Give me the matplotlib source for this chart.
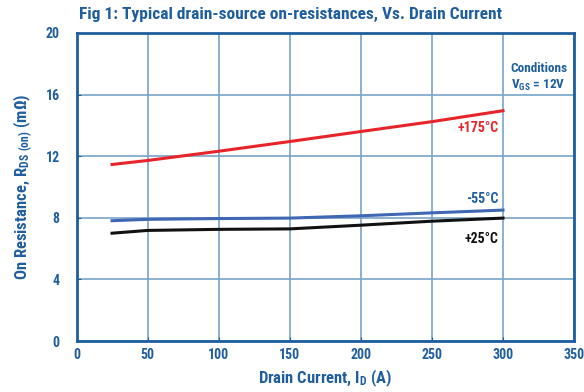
import matplotlib
matplotlib.use('Agg')
import matplotlib.pyplot as plt

# Rds(on) vs Id, Vgs = 12V
current = [25, 50, 100, 150, 200, 250, 300]
r_175 = [11.46, 11.72, 12.32, 12.95, 13.6, 14.24, 14.95]
r_m55 = [7.81, 7.9, 7.95, 7.98, 8.13, 8.32, 8.5]
r_25 = [7.0, 7.18, 7.25, 7.28, 7.52, 7.78, 7.98]

xticks = [0, 50, 100, 150, 200, 250, 300, 350]
yticks = [0, 4, 8, 12, 16, 20]

blue = '#1f5e9e'
grid_c = '#79a3c8'

plt.rcParams['font.family'] = ['Roboto Condensed', 'DejaVu Sans Condensed',
                               'Liberation Sans Narrow', 'DejaVu Sans']
plt.rcParams['mathtext.default'] = 'regular'

fig = plt.figure(figsize=(5.84, 3.92), dpi=100)
ax = fig.add_axes([0.131, 0.130, 0.852, 0.786])

ax.plot(current, r_175, color='#e8242b', lw=2.2)
ax.plot(current, r_m55, color='#3f67b4', lw=2.2)
ax.plot(current, r_25, color='#111111', lw=2.2)

ax.set_xlim(0, 350)
ax.set_ylim(0, 20)
ax.set_xticks(xticks)
ax.set_yticks(yticks)
ax.grid(True, color=grid_c, lw=1.2)
ax.set_axisbelow(True)
for s in ax.spines.values():
    s.set_color(blue)
    s.set_linewidth(2)
ax.tick_params(direction='in', length=3, color=blue, labelcolor=blue,
               labelsize=10)
ax.tick_params(axis='y', pad=12)
ax.tick_params(axis='x', pad=5)
for lab in ax.get_xticklabels() + ax.get_yticklabels():
    lab.set_fontweight('bold')

ax.set_xlabel(r'Drain Current, I$_{D}$ (A)', color=blue, fontsize=12,
              fontweight='bold', labelpad=4)
ax.set_ylabel(r'On Resistance, R$_{DS\ (on)}$ (mΩ)', color=blue, fontsize=12,
              fontweight='bold', labelpad=8)
fig.text(0.497, 0.962, 'Fig 1: Typical drain-source on-resistances, Vs. Drain Current',
         ha='center', va='center', color=blue, fontsize=12.5, fontweight='bold')

ax.text(325, 17.1, 'Conditions\n' + r'V$_{GS}$ = 12V', ha='center', va='center',
        color=blue, fontsize=9.5, fontweight='bold', linespacing=1.2)
ax.text(297, 13.8, '+175°C', ha='right', va='center', color='#e8242b',
        fontsize=10, fontweight='bold')
ax.text(297, 9.2, '-55°C', ha='right', va='center', color=blue,
        fontsize=10, fontweight='bold')
ax.text(297, 6.6, '+25°C', ha='right', va='center', color='#111111',
        fontsize=10, fontweight='bold')

fig.savefig('out.png', dpi=100)
